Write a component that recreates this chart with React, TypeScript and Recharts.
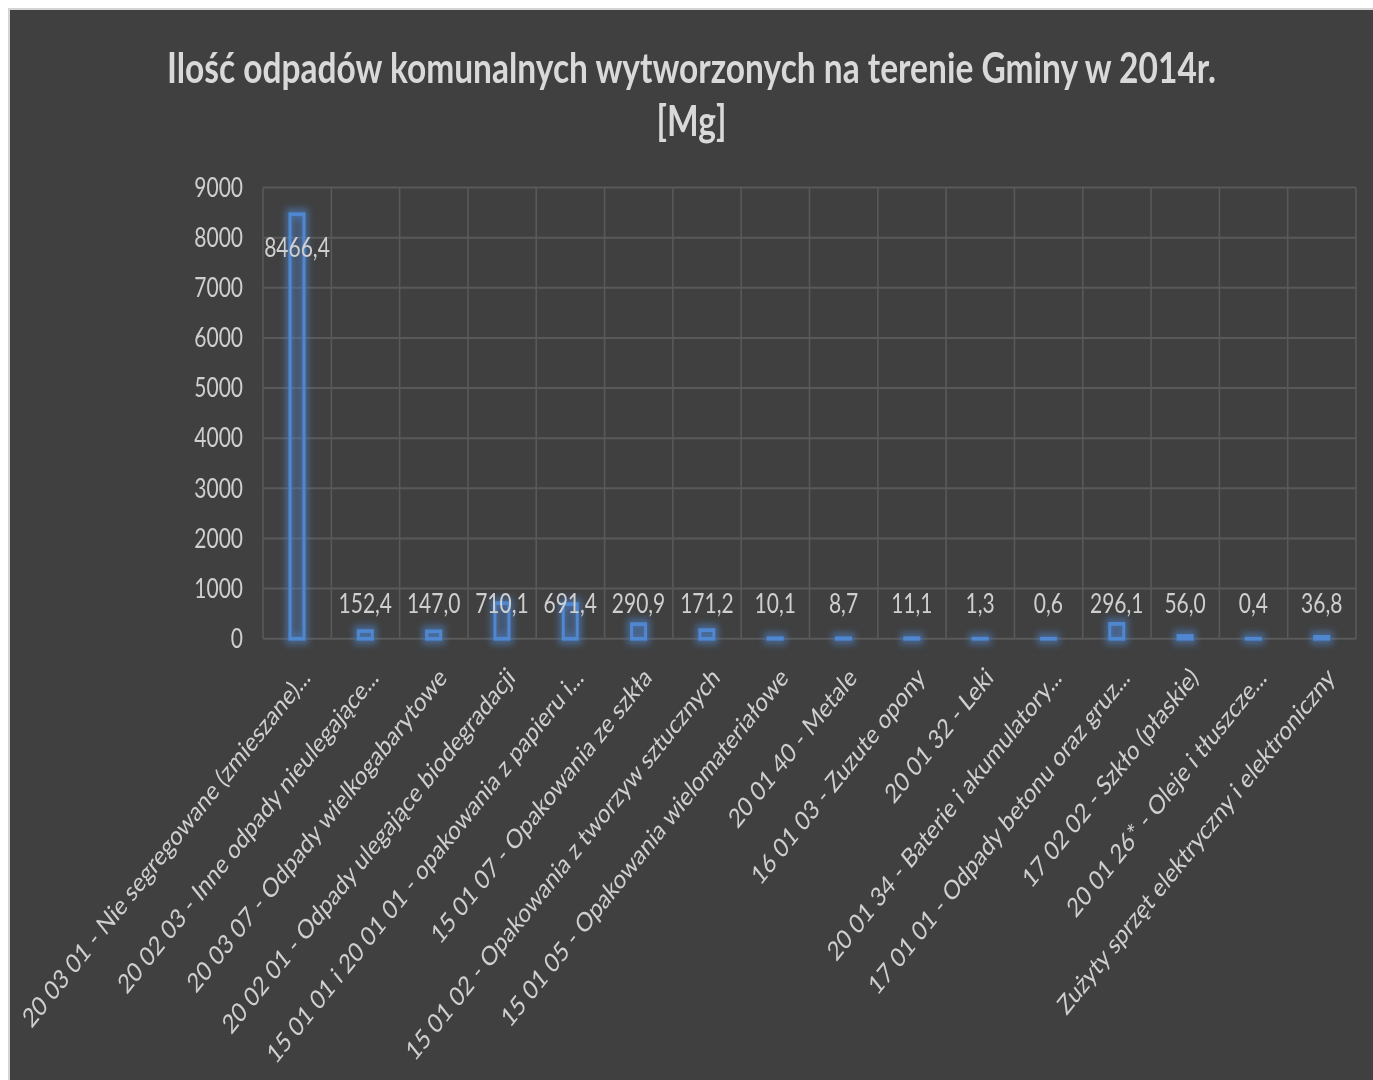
import React from 'react'
import { BarChart, Bar, XAxis, YAxis, CartesianGrid, LabelList } from 'recharts'

const categories = [
  '20 03 01 - Nie segregowane (zmieszane)...',
  '20 02 03 - Inne odpady nieulegające...',
  '20 03 07 - Odpady wielkogabarytowe',
  '20 02 01 - Odpady ulegające biodegradacji',
  '15 01 01 i 20 01 01 - opakowania z papieru i...',
  '15 01 07 - Opakowania ze szkła',
  '15 01 02 - Opakowania z tworzyw sztucznych',
  '15 01 05 - Opakowania wielomateriałowe',
  '20 01 40 - Metale',
  '16 01 03 - Zuzute opony',
  '20 01 32 - Leki',
  '20 01 34 - Baterie i akumulatory...',
  '17 01 01 - Odpady betonu oraz gruz...',
  '17 02 02 - Szkło (płaskie)',
  '20 01 26* - Oleje i tłuszcze...',
  'Zużyty sprzęt elektryczny i elektroniczny'
]

const amounts = [8466.4, 152.4, 147.0, 710.1, 691.4, 290.9, 171.2, 10.1, 8.7, 11.1, 1.3, 0.6, 296.1, 56.0, 0.4, 36.8]

const yTicks = [0, 1000, 2000, 3000, 4000, 5000, 6000, 7000, 8000, 9000]

const titleLines = ['Ilość odpadów komunalnych wytworzonych na terenie Gminy w 2014r.', '[Mg]']

const data = categories.map((name, i) => ({ name, value: amounts[i] }))

// the reference is an Excel chart stretched vertically, so we draw flat and stretch
const STRETCH = 1.25
const W = 1363
const H = 856
const FONT = 'Lato, "Open Sans", sans-serif'
const BLUE = '#4f87d1'
const TEXT = '#cfcfcf'

const GlowBar = (props: any) => {
  const { x, y, width, height } = props
  return (
    <g>
      <rect x={x} y={y} width={width} height={height} fill="none" stroke={BLUE} strokeWidth={9} strokeOpacity={0.55} filter="url(#barGlow)" />
      <rect x={x} y={y} width={width} height={height} fill={BLUE} fillOpacity={0.12} stroke={BLUE} strokeWidth={3} />
    </g>
  )
}

const ValueLabel = (props: any) => {
  const { x, y, width, height, value } = props
  const cx = x + width / 2
  // tall bars get the label inside near the top, short ones a fixed spot above the base
  const ty = height > 40 ? y + 29 : y + height - 26
  return (
    <text x={cx} y={ty} textAnchor="middle" dominantBaseline="middle" fill={TEXT} fontSize={21} fontFamily={FONT}>
      {Number(value).toFixed(1).replace('.', ',')}
    </text>
  )
}

const CategoryTick = (props: any) => {
  const { x, y, payload } = props
  const tx = x + 9
  const ty = y + 19
  return (
    <text x={tx} y={ty} dy="0.35em" textAnchor="end" fill={TEXT} fontSize={21.5} fontFamily={FONT} transform={`rotate(-45, ${tx}, ${ty})`}>
      {payload.value}
    </text>
  )
}

export default function App() {
  return (
    <div style={{ position: 'fixed', left: 8, top: 8, width: 1365, height: 1072, boxSizing: 'border-box', background: '#404040', borderLeft: '2px solid #d4d4d4', borderTop: '2px solid #d4d4d4', overflow: 'hidden' }}>
      <svg width={0} height={0} style={{ position: 'absolute' }}>
        <defs>
          <filter id="barGlow" filterUnits="userSpaceOnUse" x={0} y={0} width={1400} height={900}>
            <feGaussianBlur stdDeviation={3} />
          </filter>
        </defs>
      </svg>
      <div style={{ width: W, height: H, transform: `scaleY(${STRETCH})`, transformOrigin: '0 0', position: 'relative' }}>
        <div style={{ position: 'absolute', top: 24, left: 0, width: W, textAlign: 'center', fontFamily: FONT, fontWeight: 700, fontSize: 33.5, lineHeight: '42.5px', color: '#d9d9d9' }}>
          {titleLines.map((t) => (
            <div key={t}>{t}</div>
          ))}
        </div>
        <BarChart width={W} height={H} data={data} margin={{ top: 142, right: 17, bottom: 13, left: 193 }} barSize={14}>
          <CartesianGrid
            stroke="#595959"
            strokeWidth={1.6}
            verticalCoordinatesGenerator={({ offset }: any) =>
              Array.from({ length: categories.length + 1 }, (_, i) => offset.left + (i * offset.width) / categories.length)
            }
          />
          <XAxis dataKey="name" interval={0} height={340} axisLine={false} tickLine={false} tick={<CategoryTick />} />
          <YAxis
            domain={[0, 9000]}
            ticks={yTicks}
            width={60}
            axisLine={false}
            tickLine={false}
            tickSize={0}
            tickMargin={20}
            tick={{ fill: TEXT, fontSize: 21, fontFamily: FONT }}
          />
          <Bar dataKey="value" shape={<GlowBar />} isAnimationActive={false}>
            <LabelList dataKey="value" content={<ValueLabel />} />
          </Bar>
        </BarChart>
      </div>
    </div>
  )
}
